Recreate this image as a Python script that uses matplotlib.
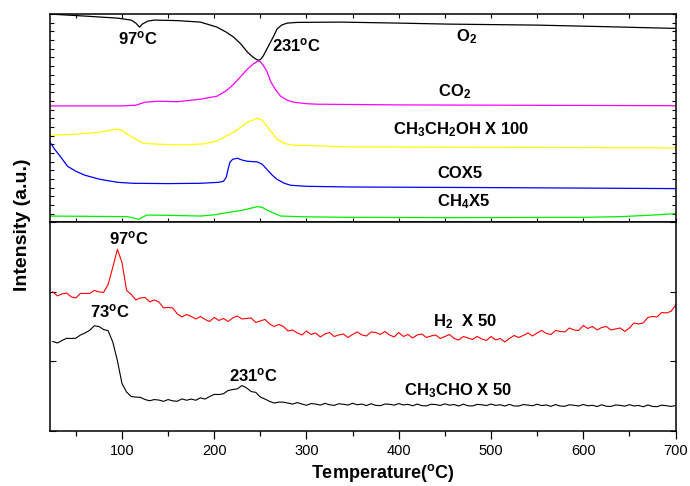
import numpy as np
import matplotlib
matplotlib.use('Agg')
import matplotlib.pyplot as plt
from matplotlib.ticker import MultipleLocator, NullFormatter

plt.rcParams['font.family'] = ['Liberation Sans', 'DejaVu Sans']
plt.rcParams['mathtext.fontset'] = 'custom'
plt.rcParams['mathtext.rm'] = 'Liberation Sans:bold'
plt.rcParams['mathtext.it'] = 'Liberation Sans:bold'
plt.rcParams['mathtext.bf'] = 'Liberation Sans:bold'

# ---- top panel: smooth traces (arbitrary units) ----
o2_t = [22, 60, 95, 110, 115, 119, 122, 128, 135, 160, 185, 203, 213, 221, 229, 236,
        242, 247, 250, 253, 257, 261, 265, 268, 273, 279, 290, 337, 400, 453, 550, 630, 665, 700]
o2_i = [208, 206, 204, 202, 199, 195, 198, 201, 202, 201.5, 200, 195, 190, 185, 178, 170,
        165, 162, 162.5, 166, 173, 180, 187, 193, 197, 199, 199.7, 200, 199, 198, 197, 195.3, 194.5, 193.7]

co2_t = [22, 100, 115, 125, 140, 160, 185, 203, 213, 221, 229, 236, 242, 247, 250, 253,
         257, 261, 266, 272, 279, 286, 300, 312, 400, 700]
co2_i = [116.3, 116.3, 117, 120, 121, 120.5, 123, 126, 131.5, 138, 146, 153, 158, 161, 160.5, 157,
         151, 141, 133, 126, 122, 120, 118.5, 118, 117.3, 116.5]

etoh_t = [22, 50, 76, 93, 100, 106, 115, 123, 140, 167, 190, 203, 213, 221, 230, 236,
          247, 252, 257, 263, 268, 276, 283, 348, 500, 700]
etoh_i = [87, 88, 90, 93, 92, 88, 83, 79, 78, 77.3, 78.5, 81.3, 86, 90, 96, 100,
          104, 102, 96, 89, 83, 79, 77.3, 75.3, 75, 74.3]

co_t = [22, 27, 33, 41, 50, 60, 76, 95, 112, 150, 185, 205, 210, 213, 215, 217, 220, 225,
        231, 236, 247, 252, 257, 263, 268, 276, 283, 300, 348, 500, 700]
co_i = [80, 73, 66, 56, 51, 47, 43, 40, 39, 38.7, 39, 40, 41, 45, 53, 60, 63, 64,
        62, 61, 60.3, 58, 53, 47, 43, 39, 37, 36, 35.3, 34.7, 33.7]

ch4_t = [22, 106, 112, 118, 122, 127, 150, 185, 200, 214, 230, 247, 252, 257, 265, 272,
         300, 348, 456, 600, 640, 670, 700]
ch4_i = [6.3, 5.7, 4.5, 3, 5, 7.3, 7, 6.3, 7.5, 9.7, 12, 15.7, 15, 12.3, 9, 6.3,
         5.5, 5, 4.7, 5, 5.7, 7, 8.7]

# ---- bottom panel: noisy traces, read every 5 degC from 25 to 700 ----
temp_5 = list(range(25, 705, 5))
h2_i = [138.5, 134.5, 136.5, 137.5, 133.5, 132.5, 137, 137, 137, 140, 138.5, 138,
        146, 163, 181, 168, 140, 136, 130.5, 132.5, 133, 128.5, 130.5, 128.5,
        122.5, 123, 122.5, 116.5, 113.5, 116, 114, 111.5, 114, 111, 109, 113,
        110, 112, 109, 112.5, 114.5, 111.5, 112, 112.5, 108, 109.5, 111, 106.5,
        104, 106, 104, 99.5, 100.5, 97.5, 95.5, 99.5, 96, 97.5, 93.5, 96.5,
        98, 94, 95.5, 96.5, 93, 96, 98.5, 95.5, 94.5, 98.5, 98, 96,
        99, 95.5, 93.5, 98, 94, 96, 92.5, 95.5, 96.5, 93, 94.5, 95.5,
        92, 94, 96, 92, 90.5, 94, 92.5, 91, 94, 91.5, 90, 94,
        90.5, 92, 88.5, 92, 95, 93, 95, 97.5, 94.5, 97.5, 100, 97,
        96, 100, 99, 98.5, 102.5, 100.5, 100, 105, 102, 104, 100.5, 103,
        104, 100.5, 101.5, 102.5, 99, 102.5, 107.5, 106.5, 107.5, 113, 114, 113.5,
        118, 117.5, 119, 125]
ch3cho_i = [89, 87.5, 90, 92.2, 92, 92.3, 95.5, 97.5, 100.2, 104.7, 104, 101,
            99.7, 88.5, 70, 47, 38.5, 34, 33.5, 33.2, 31, 29.8, 31, 30.5,
            29.2, 31, 29.7, 29.3, 31.7, 30.3, 31.5, 30.3, 32.7, 31.5, 34, 36.2,
            36, 36.8, 40, 41, 41.7, 45, 42.7, 39, 38.2, 33.5, 31.5, 29.2,
            27.5, 28.5, 28.4, 27.5, 26.5, 28, 26.5, 25.3, 27, 26.5, 25.5, 27.2,
            25.8, 25.2, 26.8, 26.3, 25.5, 27.3, 25.8, 26.5, 25, 26.8, 25.2, 24.9,
            26.5, 26.3, 25.4, 27, 25.6, 26.2, 24.8, 26.5, 24.9, 24.7, 26.3, 26,
            25.1, 26.7, 25.4, 26, 24.6, 26.4, 24.8, 24.6, 26.2, 25.8, 25, 26.5,
            25.2, 25.8, 24.5, 26.2, 24.6, 24.5, 26, 25.5, 24.8, 26.3, 25, 25.6,
            24.2, 26, 24.5, 24.3, 25.8, 25.3, 24.6, 26.1, 24.8, 25.3, 24, 25.8,
            24.3, 24.1, 25.6, 25.2, 24.4, 25.9, 24.6, 25.1, 23.8, 25.6, 24.1, 23.9,
            25.4, 24.9, 24.1, 25]

fig = plt.figure(figsize=(6.9, 4.86), dpi=100)
gs = fig.add_gridspec(2, 1, hspace=0, left=0.0725, right=0.979, top=0.971, bottom=0.114)
ax1 = fig.add_subplot(gs[0])
ax2 = fig.add_subplot(gs[1], sharex=ax1)

lw = 0.9
ax1.plot(o2_t, o2_i, color='black', lw=lw)
ax1.plot(co2_t, co2_i, color='#ff00ff', lw=lw)
ax1.plot(etoh_t, etoh_i, color='#ffff00', lw=lw)
ax1.plot(co_t, co_i, color='#0000ff', lw=lw)
ax1.plot(ch4_t, ch4_i, color='#00ee00', lw=lw)

ax2.plot(temp_5, h2_i, color='red', lw=0.8)
ax2.plot(temp_5, ch3cho_i, color='black', lw=0.8)

ax1.set_xlim(22, 700)
ax1.set_ylim(0, 208)
ax2.set_ylim(0, 208)

for ax in (ax1, ax2):
    for s in ax.spines.values():
        s.set_linewidth(1.1)

ax1.yaxis.set_major_locator(MultipleLocator(208 / 24))
ax1.yaxis.set_major_formatter(NullFormatter())
ax1.tick_params(axis='y', which='both', direction='in', left=True, right=True, length=3, width=0.8)
ax1.tick_params(axis='x', which='both', direction='in', top=True, bottom=True,
                labelbottom=False, length=3, width=0.8)

ax2.xaxis.set_major_locator(MultipleLocator(100))
ax2.xaxis.set_minor_locator(MultipleLocator(50))
ax2.yaxis.set_major_locator(MultipleLocator(208 / 3))
ax2.yaxis.set_major_formatter(NullFormatter())
ax2.tick_params(axis='y', which='both', direction='in', left=True, right=True, length=4, width=0.8)
ax2.tick_params(axis='x', which='major', direction='out', length=6, width=0.9, labelsize=10.5)
ax2.tick_params(axis='x', which='minor', direction='out', length=3.5, width=0.9)

fs = 12
kw = dict(fontsize=fs, fontweight='bold', ha='center', va='baseline')
deg = r'$^\mathrm{o}$C'
ax1.text(117, 178, '97' + deg, **kw)
ax1.text(289, 171.3, '231' + deg, **kw)
ax1.text(473, 181, r'O$_\mathrm{2}$', **kw)
ax1.text(461, 126.3, r'CO$_\mathrm{2}$', **kw)
ax1.text(468, 88, r'CH$_\mathrm{3}$CH$_\mathrm{2}$OH X 100', **kw)
ax1.text(466, 44, 'COX5', **kw)
ax1.text(470.7, 16.3, r'CH$_\mathrm{4}$X5', **kw)

ax2.text(107.4, 186, '97' + deg, **kw)
ax2.text(86.8, 113, '73' + deg, **kw)
ax2.text(242.4, 49.3, '231' + deg, **kw)
ax2.text(471.8, 104.3, r'H$_\mathrm{2}$  X 50', **kw)
ax2.text(464, 35, r'CH$_\mathrm{3}$CHO X 50', **kw)

fig.text(383 / 690, 1 - 473 / 486, r'Temperature($^\mathrm{o}$C)', fontsize=13,
         fontweight='bold', ha='center', va='center')
fig.text(23 / 690, 1 - 225 / 486, 'Intensity (a.u.)', fontsize=14, fontweight='bold',
         rotation=90, ha='center', va='center')

fig.savefig('out.png', dpi=100)
